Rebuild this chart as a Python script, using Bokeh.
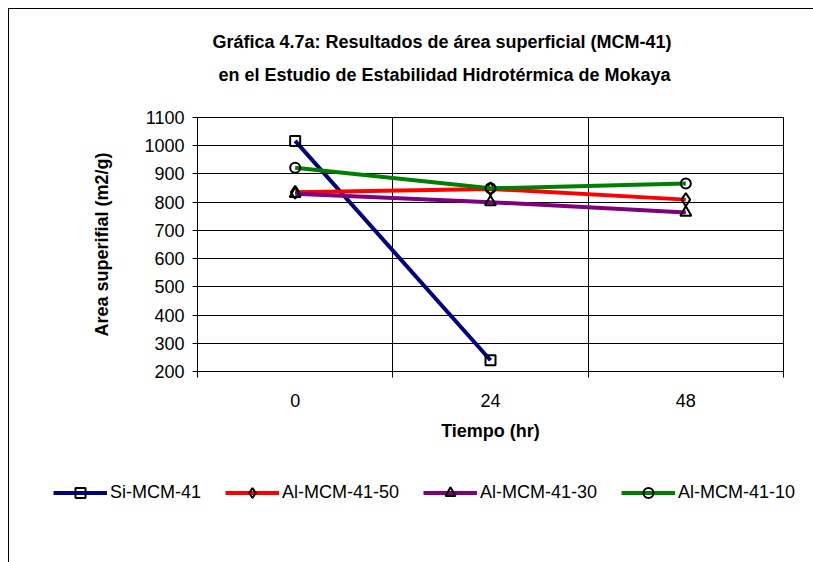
from bokeh.plotting import figure
from bokeh.layouts import column
from bokeh.models import FixedTicker, Legend, LegendItem, Range1d, Label
from bokeh.embed import file_html
from bokeh.resources import INLINE

# ---- data ----
time_labels = ["0", "24", "48"]
x_pos = [0, 1, 2]
nan = float("nan")
si_mcm41 = [1017, 240, nan]
al_mcm41_50 = [835, 847, 809]
al_mcm41_30 = [830, 800, 763]
al_mcm41_10 = [922, 849, 866]
series_names = ["Si-MCM-41", "Al-MCM-41-50", "Al-MCM-41-30", "Al-MCM-41-10"]
y_ticks = [200, 300, 400, 500, 600, 700, 800, 900, 1000, 1100]
title_lines = ["Gráfica 4.7a: Resultados de  área superficial (MCM-41)",
               "en el Estudio de Estabilidad Hidrotérmica de Mokaya"]
x_title = "Tiempo (hr)"
y_title = "Area superifial (m2/g)"

FONT = "Liberation Sans"
W = 804


def strip(height):
    f = figure(width=W, height=height, output_backend="svg", toolbar_location=None,
               x_axis_location=None, y_axis_location=None,
               x_range=Range1d(10, 11), y_range=Range1d(10, 11),
               min_border_left=0, min_border_right=0, min_border_top=0,
               min_border_bottom=0)
    f.frame_align = False
    f.grid.visible = False
    f.outline_line_color = None
    f.background_fill_color = "white"
    f.border_fill_color = "white"
    return f


# ---- title strip ----
pt = strip(96)
for txt, ty in zip(title_lines, [64, 31]):
    pt.add_layout(Label(x=435, y=ty, x_units="screen", y_units="screen", text=txt,
                        text_align="center", text_baseline="middle",
                        text_font=FONT, text_font_size="18px",
                        text_font_style="bold", text_color="black"))

# ---- main plot ----
p = figure(width=W, height=365, output_backend="svg", toolbar_location=None,
           x_range=Range1d(-0.5, 2.5), y_range=Range1d(200, 1100),
           min_border_left=188, min_border_right=30, min_border_top=12,
           min_border_bottom=99)
p.frame_align = False
p.background_fill_color = "white"
p.border_fill_color = "white"
p.outline_line_color = "black"
p.outline_line_width = 1

p.ygrid.ticker = FixedTicker(ticks=y_ticks)
p.ygrid.grid_line_color = "black"
p.ygrid.grid_line_width = 1
p.xgrid.ticker = FixedTicker(ticks=[-0.5, 0.5, 1.5, 2.5])
p.xgrid.grid_line_color = "black"
p.xgrid.grid_line_width = 1

xa = p.xaxis[0]
xa.ticker = FixedTicker(ticks=x_pos, minor_ticks=[-0.5, 0.5, 1.5, 2.5])
xa.major_label_overrides = {x: lab for x, lab in zip(x_pos, time_labels)}
xa.major_tick_line_color = None
xa.major_tick_out = 0
xa.major_tick_in = 0
xa.minor_tick_out = 6
xa.minor_tick_in = 0
xa.minor_tick_line_color = "black"
xa.axis_line_color = "black"
xa.major_label_text_font = FONT
xa.major_label_text_font_size = "18px"
xa.major_label_text_color = "black"
xa.major_label_standoff = 16
xa.axis_label = x_title
xa.axis_label_text_font = FONT
xa.axis_label_text_font_size = "18px"
xa.axis_label_text_font_style = "bold"
xa.axis_label_text_color = "black"
xa.axis_label_standoff = 11

ya = p.yaxis[0]
ya.ticker = FixedTicker(ticks=y_ticks)
ya.minor_tick_line_color = None
ya.major_tick_out = 5
ya.major_tick_in = 0
ya.major_tick_line_color = "black"
ya.axis_line_color = "black"
ya.major_label_text_font = FONT
ya.major_label_text_font_size = "18px"
ya.major_label_text_color = "black"
ya.major_label_standoff = 8
ya.axis_label = y_title
ya.axis_label_text_font = FONT
ya.axis_label_text_font_size = "18px"
ya.axis_label_text_font_style = "bold"
ya.axis_label_text_color = "black"
ya.axis_label_standoff = 29

series_vals = [si_mcm41, al_mcm41_50, al_mcm41_30, al_mcm41_10]
colors = ["#000080", "#FF0000", "#800080", "#008000"]
markers = ["square", "diamond", "triangle", "circle"]
sizes = [10, 13, 11, 10]

# ---- legend strip (own figure so the legend is not clipped by the plot frame) ----
pl = strip(92)

items = []
for name, vals, col, mk, sz in zip(series_names, series_vals, colors, markers, sizes):
    p.line(x_pos, vals, line_color=col, line_width=4)
    p.scatter(x_pos, vals, marker=mk, size=sz, line_color="black",
              line_width=2, fill_color=None)
    # same series in the legend strip (outside its visible range), used for the legend keys
    ln = pl.line(x_pos, vals, line_color=col, line_width=4)
    sc = pl.scatter(x_pos, vals, marker=mk, size=sz, line_color="black",
                    line_width=2, fill_color=None)
    items.append(LegendItem(label=name, renderers=[ln, sc]))

leg = Legend(items=items, location=(44, 57), orientation="horizontal",
             glyph_width=54, glyph_height=25, label_standoff=3,
             padding=0, margin=0, spacing=24,
             border_line_color=None, background_fill_alpha=0,
             label_text_font=FONT, label_text_font_size="18px",
             label_text_color="black")
pl.add_layout(leg)

layout = column(pt, p, pl, spacing=0,
                styles={"margin-left": "8px", "margin-top": "8px",
                        "border-top": "1px solid #000000",
                        "border-left": "1px solid #000000"})

open("out.html", "w").write(file_html(layout, INLINE))
